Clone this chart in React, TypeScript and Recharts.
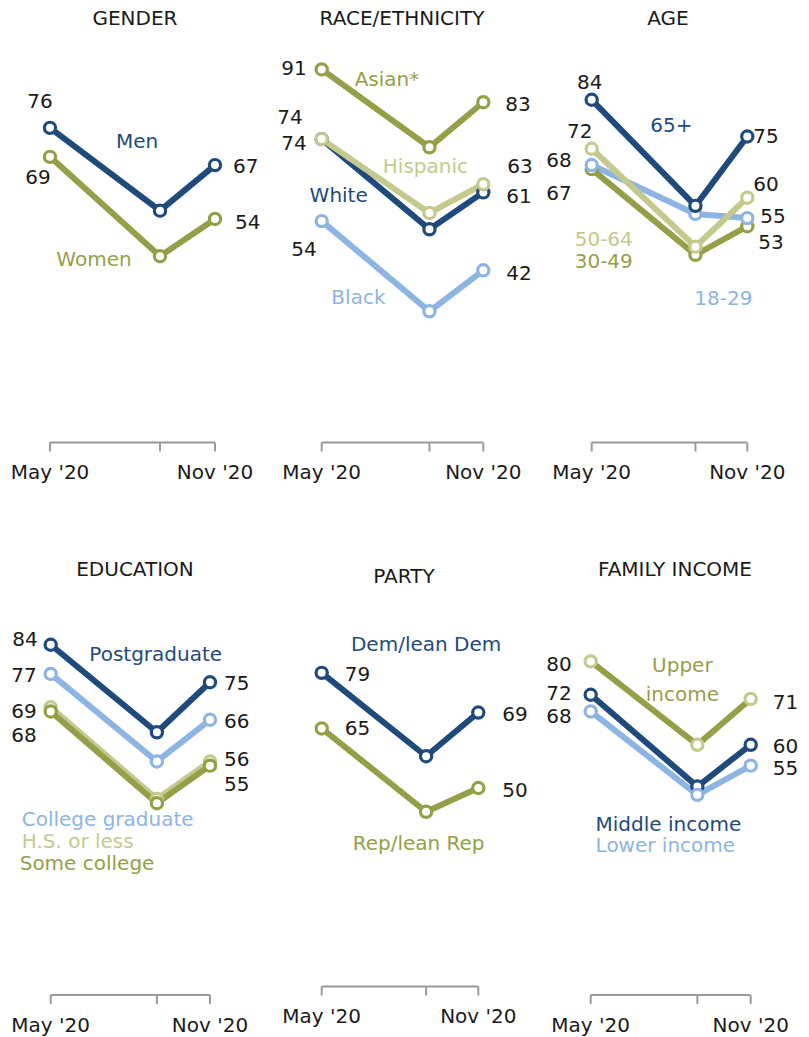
import { LineChart, Line, XAxis, YAxis, LabelList } from 'recharts'

// survey waves: May, Sep and Nov 2020 (month numbers, so spacing is true to time)
const months = [5, 9, 11]
const monthLabels: Record<number, string> = { 5: "May '20", 11: "Nov '20" }

const men = [76, 56, 67]
const women = [69, 45, 54]

const asian = [91, 72, 83]
const hispanic = [74, 56, 63]
const white = [74, 52, 61]
const black = [54, 32, 42]

const age65 = [84, 58, 75]
const age18 = [68, 56, 55]
const age50 = [72, 48, 60]
const age30 = [67, 46, 53]

const postgrad = [84, 63, 75]
const collegeGrad = [77, 56, 66]
const hsOrLess = [69, 47, 56]
const someCollege = [68, 46, 55]

const demLean = [79, 58, 69]
const repLean = [65, 44, 50]

const upperIncome = [80, 60, 71]
const middleIncome = [72, 50, 60]
const lowerIncome = [68, 48, 55]

const DARK = '#1f4a7c'
const OLIVE = '#949f47'
const LIGHT = '#8db4e3'
const KHAKI = '#c4c98d'
const AXIS = '#9a9a9a'
const TEXT = '#1a1a1a'
const FONT = '"DejaVu Sans", Verdana, sans-serif'
const FS = 20
const XAXIS_H = 40

type Anchor = 'start' | 'middle' | 'end'
type Pos = { dx: number; dy: number; anchor: Anchor }
type Series = {
  key: string
  values: number[]
  color: string
  dotColor?: string
  name: string[]
  nameAt: number
  namePos: Pos
  valuePos: (Pos | null)[]
}
type Panel = {
  title: string
  titleX: number
  titleY: number
  left: number
  top: number
  width: number
  height: number
  xMay: number
  xNov: number
  yZero: number
  k: number
  series: Series[]
}

const p = (dx: number, dy: number, anchor: Anchor): Pos => ({ dx, dy, anchor })

const panels: Panel[] = [
  {
    title: 'GENDER', titleX: 135, titleY: 25,
    left: 0, top: 0, width: 270, height: 500, xMay: 50, xNov: 215, yZero: 442.5, k: 4.14,
    series: [
      { key: 'women', values: women, color: OLIVE, name: ['Women'], nameAt: 1, namePos: p(-66, 10, 'middle'), valuePos: [p(-12, 27, 'middle'), null, p(20, 10, 'start')] },
      { key: 'men', values: men, color: DARK, name: ['Men'], nameAt: 1, namePos: p(-23, -63, 'middle'), valuePos: [p(-10, -20, 'middle'), null, p(18, 8, 'start')] },
    ],
  },
  {
    title: 'RACE/ETHNICITY', titleX: 402, titleY: 25,
    left: 270, top: 0, width: 270, height: 500, xMay: 321.7, xNov: 483.3, yZero: 442.5, k: 4.1,
    series: [
      { key: 'black', values: black, color: LIGHT, name: ['Black'], nameAt: 1, namePos: p(-71, -7, 'middle'), valuePos: [p(-5, 35, 'end'), null, p(23, 10, 'start')] },
      { key: 'white', values: white, color: DARK, name: ['White'], nameAt: 0, namePos: p(17, 63, 'middle'), valuePos: [p(-15, 11, 'end'), null, p(23, 11, 'start')] },
      { key: 'hispanic', values: hispanic, color: KHAKI, name: ['Hispanic'], nameAt: 1, namePos: p(-4, -40, 'middle'), valuePos: [p(-19, -15, 'end'), null, p(24, -11, 'start')] },
      { key: 'asian', values: asian, color: OLIVE, name: ['Asian*'], nameAt: 0, namePos: p(33, 17, 'start'), valuePos: [p(-15, 6, 'end'), null, p(22, 9, 'start')] },
    ],
  },
  {
    title: 'AGE', titleX: 668, titleY: 25,
    left: 540, top: 0, width: 269, height: 500, xMay: 591.7, xNov: 747.3, yZero: 442.5, k: 4.08,
    series: [
      { key: 'a30', values: age30, color: OLIVE, name: ['30-49'], nameAt: 0, namePos: p(-17, 99, 'start'), valuePos: [p(-20, 31, 'end'), null, p(11, 23, 'start')] },
      { key: 'a18', values: age18, color: LIGHT, name: ['18-29'], nameAt: 1, namePos: p(28, 91, 'middle'), valuePos: [p(-20, 2, 'end'), null, p(13, 5, 'start')] },
      { key: 'a50', values: age50, color: KHAKI, name: ['50-64'], nameAt: 0, namePos: p(-17, 97, 'start'), valuePos: [p(-12, -11, 'middle'), null, p(6, -7, 'start')] },
      { key: 'a65', values: age65, color: DARK, name: ['65+'], nameAt: 1, namePos: p(-24, -74, 'middle'), valuePos: [p(-2, -11, 'middle'), null, p(6, 6, 'start')] },
    ],
  },
  {
    title: 'EDUCATION', titleX: 135, titleY: 576,
    left: 0, top: 540, width: 270, height: 497, xMay: 50.7, xNov: 210, yZero: 995, k: 4.17,
    series: [
      { key: 'hs', values: hsOrLess, color: KHAKI, name: ['H.S. or less'], nameAt: 0, namePos: p(-29, 141, 'start'), valuePos: [p(-14, 11, 'end'), null, p(14, 4.5, 'start')] },
      { key: 'some', values: someCollege, color: OLIVE, name: ['Some college'], nameAt: 0, namePos: p(-31, 159, 'start'), valuePos: [p(-14, 31, 'end'), null, p(14, 25, 'start')] },
      { key: 'college', values: collegeGrad, color: LIGHT, name: ['College graduate'], nameAt: 0, namePos: p(-29, 152, 'start'), valuePos: [p(-14, 8, 'end'), null, p(14, 8, 'start')] },
      { key: 'post', values: postgrad, color: DARK, name: ['Postgraduate'], nameAt: 0, namePos: p(105, 16, 'middle'), valuePos: [p(-13, 1, 'end'), null, p(14, 8, 'start')] },
    ],
  },
  {
    title: 'PARTY', titleX: 404, titleY: 583,
    left: 270, top: 540, width: 270, height: 497, xMay: 321.7, xNov: 478.3, yZero: 986.5, k: 3.97,
    series: [
      { key: 'rep', values: repLean, color: OLIVE, name: ['Rep/lean Rep'], nameAt: 1, namePos: p(-7.5, 38, 'middle'), valuePos: [p(23, 7, 'start'), null, p(24, 8.5, 'start')] },
      { key: 'dem', values: demLean, color: DARK, name: ['Dem/lean Dem'], nameAt: 1, namePos: p(0, -105, 'middle'), valuePos: [p(23, 8, 'start'), null, p(24, 8, 'start')] },
    ],
  },
  {
    title: 'FAMILY INCOME', titleX: 675, titleY: 576,
    left: 540, top: 540, width: 269, height: 497, xMay: 590.7, xNov: 750.7, yZero: 995, k: 4.17,
    series: [
      { key: 'middle', values: middleIncome, color: DARK, name: ['Middle income'], nameAt: 1, namePos: p(-29, 44, 'middle'), valuePos: [p(-19, 5, 'end'), null, p(22, 8.5, 'start')] },
      { key: 'lower', values: lowerIncome, color: LIGHT, name: ['Lower income'], nameAt: 1, namePos: p(-32, 57.5, 'middle'), valuePos: [p(-19, 11.6, 'end'), null, p(22, 9.5, 'start')] },
      { key: 'upper', values: upperIncome, color: OLIVE, dotColor: KHAKI, name: ['Upper', 'income'], nameAt: 1, namePos: p(-15, -73, 'middle'), valuePos: [p(-19, 10, 'end'), null, p(22, 10, 'start')] },
    ],
  },
]

const MonthTick = (props: any) => {
  const { x, y, payload } = props
  const label = monthLabels[payload.value]
  if (!label) return <g />
  return (
    <text x={x} y={Number(y) + 27.5} textAnchor="middle" fill={TEXT} fontSize={FS} fontFamily={FONT}>
      {label}
    </text>
  )
}

const SeriesLabel = (props: any) => {
  const { index, s } = props
  const x = Number(props.x)
  const y = Number(props.y)
  const vp: Pos | null = s.valuePos[index]
  const np: Pos = s.namePos
  return (
    <g>
      {vp && (
        <text x={x + vp.dx} y={y + vp.dy} textAnchor={vp.anchor} fill={TEXT} fontSize={FS} fontFamily={FONT}>
          {s.values[index]}
        </text>
      )}
      {index === s.nameAt && (
        <text x={x + np.dx} y={y + np.dy} textAnchor={np.anchor} fill={s.color} fontSize={FS} fontFamily={FONT}>
          {s.name.map((line: string, j: number) => (
            <tspan key={j} x={x + np.dx} dy={j === 0 ? 0 : 28.7}>{line}</tspan>
          ))}
        </text>
      )}
    </g>
  )
}

const SmallChart = ({ panel }: { panel: Panel }) => {
  const data = months.map((m, i) => {
    const row: Record<string, number> = { m }
    panel.series.forEach((s) => { row[s.key] = s.values[i] })
    return row
  })
  const margin = {
    top: panel.yZero - 100 * panel.k - panel.top,
    bottom: panel.top + panel.height - panel.yZero - XAXIS_H,
    left: panel.xMay - panel.left,
    right: panel.left + panel.width - panel.xNov,
  }
  return (
    <div style={{ position: 'absolute', left: panel.left, top: panel.top }}>
      <LineChart width={panel.width} height={panel.height} data={data} margin={margin}>
        <XAxis
          dataKey="m"
          type="number"
          domain={[5, 11]}
          ticks={months}
          interval={0}
          height={XAXIS_H}
          tickSize={9}
          tickMargin={0}
          axisLine={{ stroke: AXIS, strokeWidth: 2 }}
          tickLine={{ stroke: AXIS, strokeWidth: 2 }}
          tick={<MonthTick />}
        />
        <YAxis hide type="number" domain={[0, 100]} />
        {panel.series.map((s) => (
          <Line
            key={s.key}
            dataKey={s.key}
            stroke={s.color}
            strokeWidth={6}
            dot={{ r: 5.6, fill: '#fff', stroke: s.dotColor ?? s.color, strokeWidth: 3.2 }}
            activeDot={false}
            isAnimationActive={false}
          >
            <LabelList dataKey={s.key} content={(lp: any) => <SeriesLabel {...lp} s={s} />} />
          </Line>
        ))}
      </LineChart>
    </div>
  )
}

export default function App() {
  return (
    <div style={{ position: 'absolute', left: 0, top: 0, width: 809, height: 1037, background: '#fff' }}>
      {panels.map((panel) => (
        <SmallChart key={panel.title} panel={panel} />
      ))}
      <svg width={809} height={1037} style={{ position: 'absolute', left: 0, top: 0, pointerEvents: 'none' }}>
        {panels.map((panel) => (
          <text key={panel.title} x={panel.titleX} y={panel.titleY} textAnchor="middle" fill={TEXT} fontSize={FS} fontFamily={FONT}>
            {panel.title}
          </text>
        ))}
      </svg>
    </div>
  )
}
